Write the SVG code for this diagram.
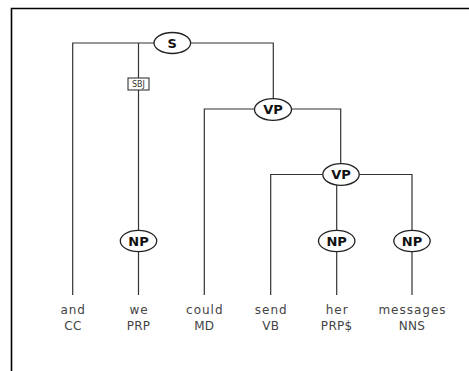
<svg xmlns="http://www.w3.org/2000/svg" width="469" height="371" viewBox="0 0 469 371">
<style>
.frame{stroke:#000;stroke-width:1.6;fill:none}
.edge{stroke:#333;stroke-width:1.2;fill:none}
.node ellipse{fill:#fff;stroke:#222;stroke-width:1.3}
.node text{font-family:"DejaVu Sans",sans-serif;font-weight:bold;font-size:13px;fill:#111;text-anchor:middle}
.word{font-family:"DejaVu Sans",sans-serif;font-size:12px;fill:#444;text-anchor:middle;letter-spacing:1px}
.tag{font-family:"DejaVu Sans",sans-serif;font-size:12px;fill:#444;text-anchor:middle;letter-spacing:0.3px}
.lbl rect{fill:#fff;stroke:#222;stroke-width:1}
.lbl text{font-family:"DejaVu Sans",sans-serif;font-size:8px;fill:#333;text-anchor:middle}
</style>
<rect x="0" y="0" width="469" height="371" fill="#fff"/>
<path class="frame" d="M11.5 371 V8.5 H469"/>
<g id="connectors">
<path class="edge" d="M72.7 295 V43 H273.3 V109"/>
<path class="edge" d="M138.5 43 V295"/>
<path class="edge" d="M204.3 295 V109 H340.7 V174.5"/>
<path class="edge" d="M270.7 295 V174.5 H412 V295"/>
<path class="edge" d="M336.7 174.5 V295"/>
</g>
<g id="label-SBJ" class="lbl">
<rect x="128" y="78" width="21" height="12"/>
<text x="138.5" y="87.3">SBJ</text>
</g>
<g id="node-S" class="node">
<ellipse cx="172.3" cy="43" rx="18.3" ry="10.5"/>
<text x="172.3" y="47.8">S</text>
</g>
<g id="node-VP1" class="node">
<ellipse cx="273" cy="109.5" rx="18.5" ry="10.8"/>
<text x="273" y="114.3">VP</text>
</g>
<g id="node-VP2" class="node">
<ellipse cx="341" cy="174.5" rx="18.2" ry="10.8"/>
<text x="341" y="179.3">VP</text>
</g>
<g id="node-NP1" class="node">
<ellipse cx="138.5" cy="241" rx="18.2" ry="10.6"/>
<text x="138.5" y="245.8">NP</text>
</g>
<g id="node-NP2" class="node">
<ellipse cx="336.7" cy="241" rx="18.2" ry="10.6"/>
<text x="336.7" y="245.8">NP</text>
</g>
<g id="node-NP3" class="node">
<ellipse cx="412" cy="241" rx="18.2" ry="10.6"/>
<text x="412" y="245.8">NP</text>
</g>
<g id="tok-and"><text class="word" x="73.2" y="314">and</text><text class="tag" x="73" y="329.5">CC</text></g>
<g id="tok-we"><text class="word" x="139" y="314">we</text><text class="tag" x="138.5" y="329.5">PRP</text></g>
<g id="tok-could"><text class="word" x="204.8" y="314">could</text><text class="tag" x="204.3" y="329.5">MD</text></g>
<g id="tok-send"><text class="word" x="271.2" y="314">send</text><text class="tag" x="270.7" y="329.5">VB</text></g>
<g id="tok-her"><text class="word" x="337.2" y="314">her</text><text class="tag" x="336.7" y="329.5">PRP$</text></g>
<g id="tok-messages"><text class="word" x="412.5" y="314">messages</text><text class="tag" x="412" y="329.5">NNS</text></g>
</svg>
